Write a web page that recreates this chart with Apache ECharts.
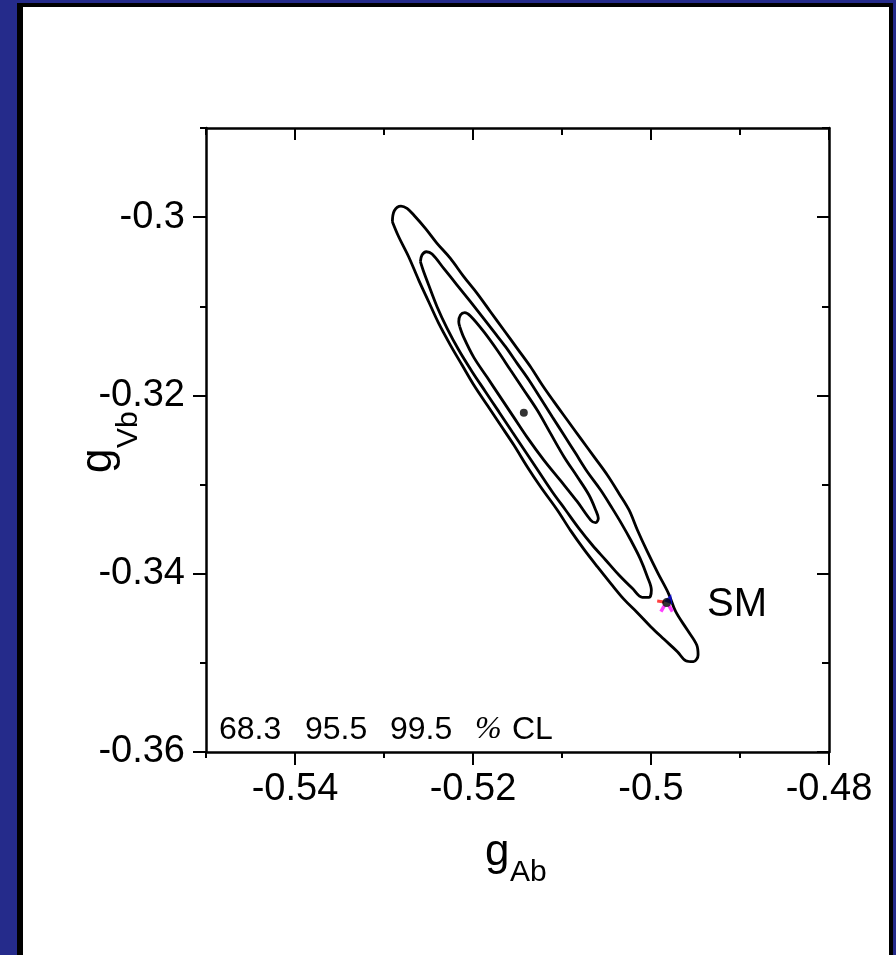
<!DOCTYPE html>
<html>
<head>
<meta charset="utf-8">
<script src="https://cdn.jsdelivr.net/npm/echarts@6/dist/echarts.min.js"></script>
<style>
html,body{margin:0;padding:0;width:896px;height:955px;overflow:hidden;background:#252b8b;}
#panel{position:absolute;left:17px;top:3px;width:866px;height:1000px;background:#fff;border-left:6px solid #000;border-top:4px solid #000;border-right:4px solid #000;}
#chart{position:absolute;left:0;top:0;width:896px;height:955px;}
</style>
</head>
<body>
<div id="panel"></div>
<div id="chart"></div>
<script>
// Axis ranges and tick labels
const xRange = [-0.55, -0.48];
const yRange = [-0.36, -0.29];
const xTickLabels = [-0.54, -0.52, -0.5, -0.48];
const yTickLabels = [-0.36, -0.34, -0.32, -0.3];
const clLevels = ['68.3', '95.5', '99.5'];

// Best fit point and Standard Model point
const bestFit = [-0.51429, -0.32193];
const smPoint = [-0.49824, -0.34324];

// Contours (g_Ab, g_Vb)
const contour683 = [[-0.52149,-0.31229],[-0.52160,-0.31173],[-0.52141,-0.31098],[-0.52093,-0.31072],[-0.52029,-0.31109],[-0.51879,-0.31285],[-0.51729,-0.31491],[-0.51579,-0.31715],[-0.51429,-0.31939],[-0.51279,-0.32164],[-0.51129,-0.32426],[-0.50978,-0.32687],[-0.50828,-0.32912],[-0.50697,-0.33117],[-0.50622,-0.33285],[-0.50592,-0.33379],[-0.50622,-0.33428],[-0.50678,-0.33398],[-0.50828,-0.33192],[-0.51016,-0.32956],[-0.51204,-0.32725],[-0.51391,-0.32470],[-0.51541,-0.32246],[-0.51691,-0.32022],[-0.51841,-0.31797],[-0.51991,-0.31573],[-0.52104,-0.31349],[-0.52149,-0.31229]];

const contour955 = [[-0.52591,-0.30500],[-0.52573,-0.30425],[-0.52524,-0.30388],[-0.52460,-0.30414],[-0.52329,-0.30575],[-0.52179,-0.30762],[-0.52029,-0.30949],[-0.51897,-0.31117],[-0.51766,-0.31285],[-0.51635,-0.31453],[-0.51504,-0.31640],[-0.51372,-0.31827],[-0.51241,-0.32033],[-0.51110,-0.32239],[-0.50978,-0.32444],[-0.50847,-0.32650],[-0.50716,-0.32856],[-0.50566,-0.33061],[-0.50435,-0.33267],[-0.50333,-0.33435],[-0.50228,-0.33622],[-0.50123,-0.33828],[-0.50041,-0.34033],[-0.49996,-0.34183],[-0.50022,-0.34265],[-0.50097,-0.34265],[-0.50210,-0.34164],[-0.50360,-0.34015],[-0.50510,-0.33846],[-0.50660,-0.33678],[-0.50810,-0.33491],[-0.50960,-0.33285],[-0.51110,-0.33080],[-0.51260,-0.32856],[-0.51410,-0.32631],[-0.51560,-0.32407],[-0.51710,-0.32182],[-0.51860,-0.31958],[-0.52010,-0.31734],[-0.52160,-0.31491],[-0.52291,-0.31248],[-0.52404,-0.31005],[-0.52498,-0.30762],[-0.52561,-0.30593],[-0.52591,-0.30500]];

const contour995 = [[-0.52906,-0.30051],[-0.52884,-0.29928],[-0.52809,-0.29876],[-0.52741,-0.29902],[-0.52666,-0.29976],[-0.52535,-0.30126],[-0.52404,-0.30294],[-0.52254,-0.30463],[-0.52104,-0.30668],[-0.51954,-0.30855],[-0.51804,-0.31061],[-0.51654,-0.31266],[-0.51504,-0.31472],[-0.51354,-0.31678],[-0.51222,-0.31883],[-0.51091,-0.32070],[-0.50941,-0.32276],[-0.50791,-0.32482],[-0.50641,-0.32687],[-0.50491,-0.32893],[-0.50360,-0.33099],[-0.50247,-0.33285],[-0.50153,-0.33510],[-0.50041,-0.33753],[-0.49921,-0.33996],[-0.49804,-0.34220],[-0.49722,-0.34426],[-0.49591,-0.34632],[-0.49486,-0.34800],[-0.49471,-0.34912],[-0.49523,-0.34987],[-0.49609,-0.34976],[-0.49703,-0.34875],[-0.49853,-0.34736],[-0.50003,-0.34594],[-0.50153,-0.34437],[-0.50303,-0.34288],[-0.50453,-0.34108],[-0.50603,-0.33921],[-0.50753,-0.33727],[-0.50903,-0.33517],[-0.51053,-0.33285],[-0.51241,-0.33024],[-0.51391,-0.32799],[-0.51541,-0.32556],[-0.51691,-0.32332],[-0.51841,-0.32108],[-0.51991,-0.31883],[-0.52123,-0.31659],[-0.52254,-0.31435],[-0.52385,-0.31192],[-0.52498,-0.30949],[-0.52610,-0.30706],[-0.52723,-0.30444],[-0.52835,-0.30220],[-0.52906,-0.30051]];

const FONT = '"Liberation Sans", Arial, Helvetica, sans-serif';
const fmt = v => String(+Number(v).toFixed(2));
const gridBox = {left: 206, top: 128, width: 623, height: 624};
const lineCol = '#000';

function xAx(gridIndex, position, opts) {
  return Object.assign({
    type: 'value', gridIndex, position, min: xRange[0], max: xRange[1], interval: 0.01,
    axisLine: {show: false, onZero: false, lineStyle: {color: lineCol, width: 2.5}},
    axisTick: {show: true, length: 6, lineStyle: {color: lineCol, width: 2}},
    axisLabel: {show: false},
    splitLine: {show: false}
  }, opts);
}
function yAx(gridIndex, position, opts) {
  return Object.assign({
    type: 'value', gridIndex, position, min: yRange[0], max: yRange[1], interval: 0.01,
    axisLine: {show: false, onZero: false, lineStyle: {color: lineCol, width: 2.5}},
    axisTick: {show: true, length: 6, lineStyle: {color: lineCol, width: 2}},
    axisLabel: {show: false},
    splitLine: {show: false}
  }, opts);
}

const chart = echarts.init(document.getElementById('chart'), null, {renderer: 'canvas'});
const contourLine = (name, data) => ({
  name, type: 'line', data, xAxisIndex: 0, yAxisIndex: 0,
  showSymbol: false, symbol: 'none', smooth: 0.35, z: 3,
  lineStyle: {color: '#000', width: 2.8}
});
const txt = (x, y, text, font) => ({type: 'text', x, y, z: 10,
  style: {text, font, fill: '#000', textAlign: 'left', textVerticalAlign: 'middle', align: 'left', verticalAlign: 'middle'}});

chart.setOption({
  animation: false,
  backgroundColor: 'transparent',
  grid: [Object.assign({}, gridBox), Object.assign({}, gridBox)],
  xAxis: [
    xAx(0, 'bottom', {
      axisLine: {show: true, onZero: false, lineStyle: {color: lineCol, width: 2.5}},
      axisLabel: {show: true, customValues: xTickLabels, formatter: fmt, margin: 19,
        fontSize: 38, fontFamily: FONT, color: '#000'}
    }),
    xAx(0, 'top', {
      axisLine: {show: true, onZero: false, lineStyle: {color: lineCol, width: 2.5}},
      axisTick: {show: true, inside: true, length: 7, lineStyle: {color: lineCol, width: 2}}
    }),
    xAx(1, 'bottom', {axisTick: {show: true, customValues: xTickLabels, length: 13, lineStyle: {color: lineCol, width: 2}}}),
    xAx(1, 'top', {axisTick: {show: true, inside: true, customValues: xTickLabels, length: 12, lineStyle: {color: lineCol, width: 2}}})
  ],
  yAxis: [
    yAx(0, 'left', {
      axisLine: {show: true, onZero: false, lineStyle: {color: lineCol, width: 2.5}},
      axisLabel: {show: true, customValues: yTickLabels, formatter: fmt, margin: 21,
        fontSize: 38, fontFamily: FONT, color: '#000'}
    }),
    yAx(0, 'right', {
      axisLine: {show: true, onZero: false, lineStyle: {color: lineCol, width: 2.5}},
      axisTick: {show: true, inside: true, length: 7, lineStyle: {color: lineCol, width: 2}}
    }),
    yAx(1, 'left', {axisTick: {show: true, customValues: yTickLabels, length: 13, lineStyle: {color: lineCol, width: 2}}}),
    yAx(1, 'right', {axisTick: {show: true, inside: true, customValues: yTickLabels, length: 12, lineStyle: {color: lineCol, width: 2}}})
  ],
  series: [
    contourLine('99.5% CL', contour995),
    contourLine('95.5% CL', contour955),
    contourLine('68.3% CL', contour683),
    {type: 'scatter', name: 'best fit', xAxisIndex: 0, yAxisIndex: 0, data: [bestFit],
      symbol: 'circle', symbolSize: 8, itemStyle: {color: '#000'}, z: 4},
    {type: 'scatter', name: 'SM red', xAxisIndex: 0, yAxisIndex: 0, data: [smPoint],
      symbol: 'rect', symbolSize: [7, 3], symbolOffset: [-6, -1], symbolRotate: -8,
      itemStyle: {color: '#ff1010'}, z: 4},
    {type: 'scatter', name: 'SM blue', xAxisIndex: 0, yAxisIndex: 0, data: [smPoint],
      symbol: 'triangle', symbolSize: 9, symbolOffset: [3, -4], symbolRotate: -20,
      itemStyle: {color: '#0a0af0'}, z: 4},
    {type: 'scatter', name: 'SM magenta L', xAxisIndex: 0, yAxisIndex: 0, data: [smPoint],
      symbol: 'rect', symbolSize: [3.5, 7], symbolOffset: [-4, 6], symbolRotate: -30,
      itemStyle: {color: '#ff10ff'}, z: 4},
    {type: 'scatter', name: 'SM magenta R', xAxisIndex: 0, yAxisIndex: 0, data: [smPoint],
      symbol: 'rect', symbolSize: [3.5, 7], symbolOffset: [4, 6], symbolRotate: 30,
      itemStyle: {color: '#ff10ff'}, z: 4},
    {type: 'scatter', name: 'SM', xAxisIndex: 0, yAxisIndex: 0, data: [smPoint],
      symbol: 'circle', symbolSize: 9, itemStyle: {color: '#000'}, z: 5}
  ],
  graphic: [
    txt(707, 605, 'SM', '40px ' + FONT),
    txt(219, 730, clLevels[0], '32px ' + FONT),
    txt(305, 730, clLevels[1], '32px ' + FONT),
    txt(390, 730, clLevels[2], '32px ' + FONT),
    txt(475, 730, '%', 'italic 32px "Liberation Serif", "Times New Roman", serif'),
    txt(512, 730, 'CL', '32px ' + FONT),
    txt(485, 853, 'g', '44px ' + FONT),
    txt(510, 873, 'Ab', '30px ' + FONT),
    {type: 'group', x: 114, y: 473, rotation: Math.PI / 2, z: 10, children: [
      txt(0, -15, 'g', '44px ' + FONT),
      txt(25, 15, 'Vb', '30px ' + FONT)
    ]}
  ]
});
</script>
</body>
</html>
